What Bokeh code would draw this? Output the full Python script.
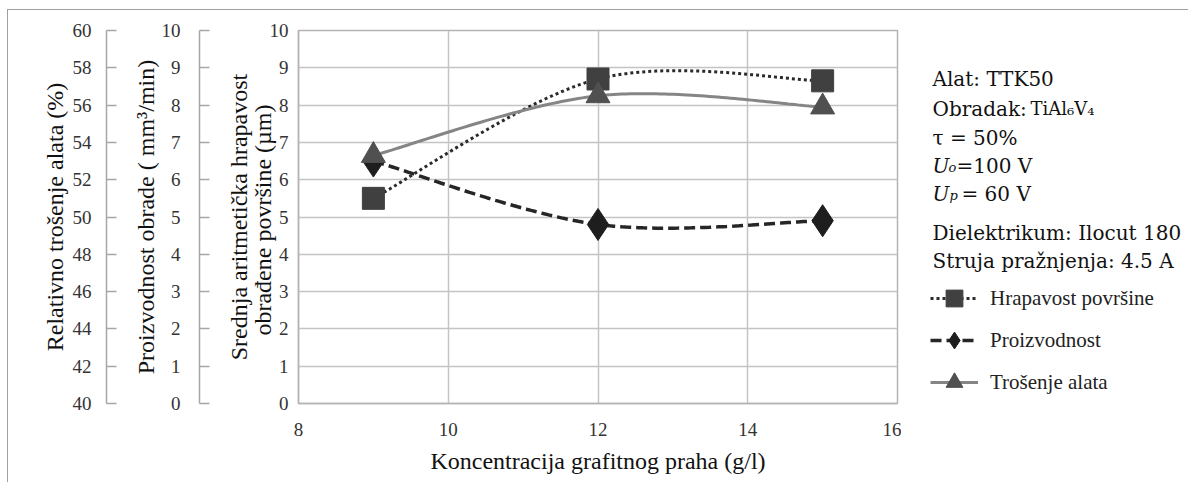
import numpy as np
from bokeh.plotting import figure
from bokeh.layouts import row
from bokeh.models import Range1d, LinearAxis, FixedTicker, Label, Legend, LegendItem
from bokeh.embed import file_html
from bokeh.resources import INLINE

# ---------------- data ----------------
concentration = [9, 12, 15]                 # g/l
hrapavost = [5.5, 8.7, 8.65]                # µm  (0-10)
proizvodnost = [6.5, 4.8, 4.9]              # mm3/min (0-10)
trosenje = [53.3, 56.5, 55.9]               # % (40-60)

x_ticks = [8, 10, 12, 14, 16]
y_ticks_0_10 = [0, 1, 2, 3, 4, 5, 6, 7, 8, 9, 10]
y_ticks_pct = [40, 42, 44, 46, 48, 50, 52, 54, 56, 58, 60]

series_names = ["Hrapavost površine", "Proizvodnost", "Trošenje alata"]

info_lines = ["Alat: TTK50", "Obradak:", "TiAl₆V₄", "τ = 50%", "=100 V", "= 60 V",
              "Dielektrikum: Ilocut 180", "Struja pražnjenja: 4.5 A"]


def smooth(xs, ys, n=60):
    """Excel-like smoothed line: cubic Bezier segments with Catmull-Rom tangents."""
    pts = list(zip(xs, ys))
    ox, oy = [], []
    t = np.linspace(0, 1, n)
    for i in range(len(pts) - 1):
        p0 = pts[i - 1] if i > 0 else pts[i]
        p1 = pts[i]
        p2 = pts[i + 1]
        p3 = pts[i + 2] if i + 2 < len(pts) else pts[i + 1]
        c1 = (p1[0] + (p2[0] - p0[0]) / 6, p1[1] + (p2[1] - p0[1]) / 6)
        c2 = (p2[0] - (p3[0] - p1[0]) / 6, p2[1] - (p3[1] - p1[1]) / 6)
        bx = (1 - t) ** 3 * p1[0] + 3 * (1 - t) ** 2 * t * c1[0] + 3 * (1 - t) * t ** 2 * c2[0] + t ** 3 * p2[0]
        by = (1 - t) ** 3 * p1[1] + 3 * (1 - t) ** 2 * t * c1[1] + 3 * (1 - t) * t ** 2 * c2[1] + t ** 3 * p2[1]
        if i > 0:
            bx, by = bx[1:], by[1:]
        ox.extend(bx.tolist())
        oy.extend(by.tolist())
    return ox, oy


SERIF = "'Liberation Serif', 'Times New Roman', Tinos, serif"
WIDE_SERIF = "'DejaVu Serif', serif"
GRAY_AX = "#a6a6a6"

H = 472
W_MAIN = 893
W_SIDE = 287

p = figure(width=W_MAIN, height=H, x_range=Range1d(8, 16), y_range=Range1d(0, 10),
           output_backend="svg", toolbar_location=None,
           min_border_left=290, min_border_right=4, min_border_top=20, min_border_bottom=79,
           background_fill_color="white", border_fill_color="white")
p.extra_y_ranges = {"proiz": Range1d(0, 10), "tros": Range1d(40, 60)}

p.outline_line_color = "#b4b4b4"
p.outline_line_width = 1.5

# grids
p.xgrid.ticker = FixedTicker(ticks=x_ticks)
p.ygrid.ticker = FixedTicker(ticks=y_ticks_0_10)
for g in (p.xgrid[0], p.ygrid[0]):
    g.grid_line_color = "#c4c4c4"
    g.grid_line_width = 1.5

# x axis
xa = p.xaxis[0]
xa.ticker = FixedTicker(ticks=x_ticks)
xa.axis_label = "Koncentracija grafitnog praha (g/l)"

# main (inner) y axis
ya = p.yaxis[0]
ya.ticker = FixedTicker(ticks=y_ticks_0_10)
ya.axis_label = "\nSrednja aritmetička hrapavost\nobrađene površine  (µm)"

ax_p = LinearAxis(y_range_name="proiz", ticker=FixedTicker(ticks=y_ticks_0_10),
                  axis_label="\nProizvodnost obrade ( mm³/min)")
p.add_layout(ax_p, "left")
ax_t = LinearAxis(y_range_name="tros", ticker=FixedTicker(ticks=y_ticks_pct),
                  axis_label="Relativno trošenje alata (%)")
p.add_layout(ax_t, "left")

for ax in (xa, ya, ax_p, ax_t):
    ax.major_label_text_font = SERIF
    ax.major_label_text_font_size = "19px"
    ax.major_label_text_color = "#333333"
    ax.axis_label_text_font = SERIF
    ax.axis_label_text_font_size = "24px"
    ax.axis_label_text_font_style = "normal"
    ax.axis_label_text_color = "#111111"
    ax.axis_label_text_line_height = 0.9
    ax.minor_tick_line_color = None
    ax.axis_line_color = GRAY_AX
    ax.axis_line_width = 1.5
    ax.major_tick_line_color = GRAY_AX
    ax.major_tick_line_width = 1.5

for ax in (xa, ya):
    ax.major_tick_in = 0
    ax.major_tick_out = 0
    ax.axis_line_color = "#b4b4b4"
xa.major_label_standoff = 19
xa.axis_label_standoff = 9
ya.major_label_standoff = 10
ya.axis_label_standoff = -9

for ax in (ax_p, ax_t):
    ax.major_tick_in = 10
    ax.major_tick_out = 0
ax_p.major_label_standoff = 19
ax_p.axis_label_standoff = 0
ax_t.major_label_standoff = 15
ax_t.axis_label_standoff = 2

# ---------------- series ----------------
STY = [
    dict(line_color="#2b2b2b", line_width=3, line_dash="3 3"),
    dict(line_color="#262626", line_width=3.5, line_dash="11 5"),
    dict(line_color="#858585", line_width=3),
]
MRK = [
    dict(marker="square", size=22, fill_color="#404040", line_color="#404040"),
    dict(marker="diamond", size=32, fill_color="#1e1e1e", line_color="#1e1e1e"),
    dict(marker="triangle", size=24, fill_color="#505050", line_color="#505050"),
]

hx, hy = smooth(concentration, hrapavost)
px, py = smooth(concentration, proizvodnost)
tx, ty = smooth(concentration, trosenje)

p.line(hx, hy, **STY[0])
p.scatter(concentration, hrapavost, **MRK[0])
p.line(px, py, y_range_name="proiz", **STY[1])
p.scatter(concentration, proizvodnost, y_range_name="proiz", **MRK[1])
p.line(tx, ty, y_range_name="tros", **STY[2])
p.scatter(concentration, trosenje, y_range_name="tros", **MRK[2])

# ---------------- side panel: info text + legend ----------------
# (its ranges do not contain the data, so the series drawn here only feed the legend)
p2 = figure(width=W_SIDE, height=H, x_range=Range1d(0, 1), y_range=Range1d(0, 1),
            output_backend="svg", toolbar_location=None, x_axis_type=None, y_axis_type=None,
            min_border_left=0, min_border_right=0, min_border_top=20, min_border_bottom=79,
            background_fill_color="white", border_fill_color="white")
p2.grid.visible = False
p2.outline_line_color = None

legend_items = []
for k, (lx, ly) in enumerate([(hx, hy), (px, py), (tx, ty)]):
    yk = [hrapavost, proizvodnost, trosenje][k]
    rl = p2.line(lx, ly, **STY[k])
    rm = p2.scatter(concentration, yk, **MRK[k])
    legend_items.append(LegendItem(label=series_names[k], renderers=[rl, rm]))

SX0 = 8 + W_MAIN      # side panel left edge, window px
FB = 403              # frame bottom, window px (frames are aligned in the row)

legend = Legend(items=legend_items, location=(930 - SX0, 0),
                glyph_width=48, glyph_height=42, spacing=0,
                label_standoff=12, padding=0, margin=0,
                label_text_font=SERIF, label_text_font_size="21px", label_text_color="#222222",
                border_line_color=None, background_fill_alpha=0)
p2.add_layout(legend)


def add_label(text, wx, wy, size="20px", style="normal", font=WIDE_SERIF):
    p2.add_layout(Label(x=wx - SX0, y=FB - wy, x_units="screen", y_units="screen",
                        text=text, text_font=font, text_font_size=size,
                        text_font_style=style, text_color="#111111",
                        text_baseline="alphabetic", text_align="left"))


add_label(info_lines[0], 932, 78.5)
add_label(info_lines[1], 932, 108)
add_label(info_lines[2], 1030, 108, size="18px")
add_label(info_lines[3], 932, 137)
add_label("U", 932, 165, style="italic")
add_label("o", 948, 167, size="13px", style="italic")
add_label(info_lines[4], 956, 165)
add_label("U", 932, 193, style="italic")
add_label("p", 949, 195, size="13px", style="italic")
add_label(info_lines[5], 961, 193)
add_label(info_lines[6], 932, 232)
add_label(info_lines[7], 932, 260)

layout = row(p, p2)
layout.styles = {"margin-left": "7px", "margin-top": "9px",
                 "border-left": "1px solid #a0a0a0", "border-top": "1px solid #a0a0a0"}

open("out.html", "w").write(file_html(layout, INLINE))
